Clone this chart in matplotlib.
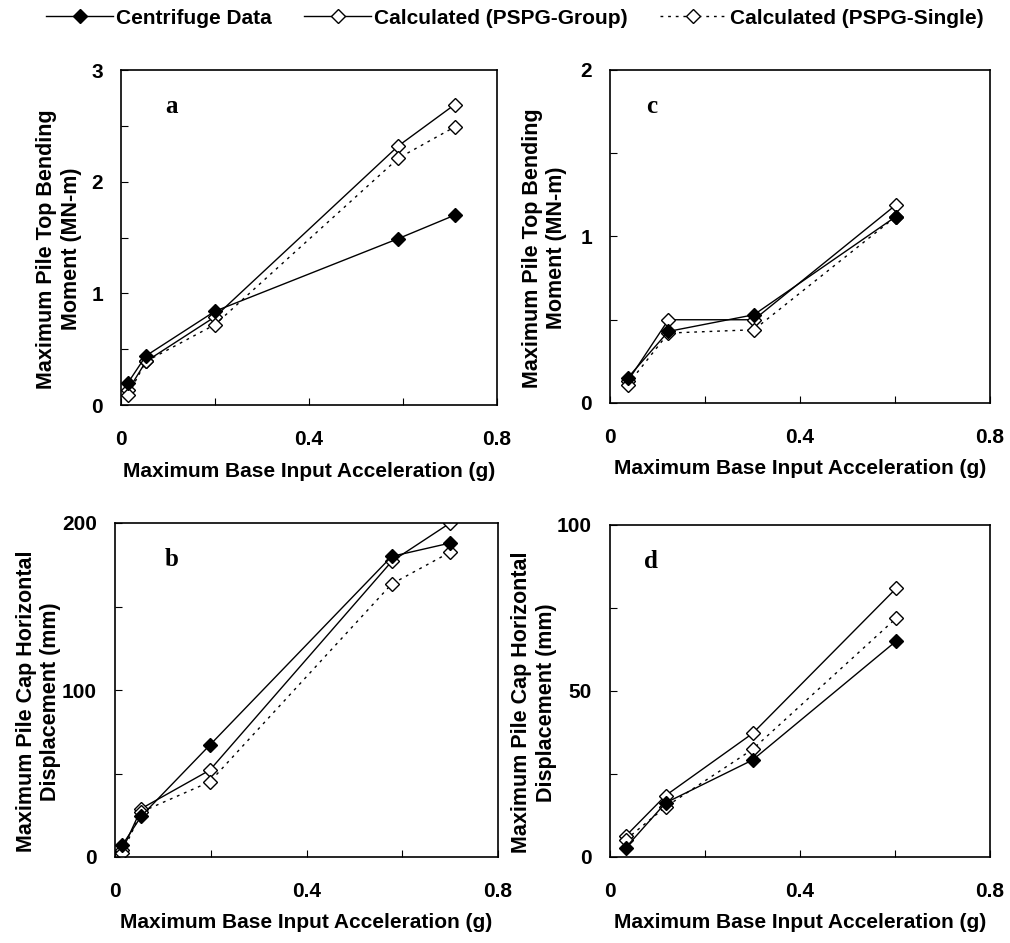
import matplotlib
matplotlib.use("Agg")
import matplotlib.pyplot as plt

plt.rcParams['font.family'] = ['Liberation Sans', 'DejaVu Sans']
plt.rcParams['font.weight'] = 'bold'

# panel a - bending moment, group 1
a_x = [0.015, 0.053, 0.2, 0.59, 0.71]
a_cent = [0.20, 0.44, 0.84, 1.49, 1.70]
a_group = [0.13, 0.39, 0.79, 2.32, 2.69]
a_single = [0.09, 0.39, 0.72, 2.21, 2.49]

# panel b - cap displacement, group 1
b_x = [0.015, 0.055, 0.198, 0.578, 0.70]
b_cent = [7.0, 24.5, 67.0, 180.0, 188.0]
b_group = [4.0, 29.0, 52.0, 177.0, 200.0]
b_single = [2.5, 27.0, 45.0, 163.5, 182.5]

# panel c - bending moment, group 2
c_x = [0.037, 0.123, 0.303, 0.602]
c_cent = [0.15, 0.43, 0.53, 1.12]
c_group = [0.13, 0.50, 0.50, 1.19]
c_single = [0.11, 0.42, 0.44, 1.12]

# panel d - cap displacement, group 2
d_x = [0.033, 0.117, 0.30, 0.603]
d_cent = [2.8, 16.3, 29.2, 65.1]
d_group = [6.3, 18.5, 37.2, 81.0]
d_single = [5.2, 15.1, 32.4, 72.0]

xlab = 'Maximum Base Input Acceleration (g)'
ylab_m = 'Maximum Pile Top Bending\nMoment (MN-m)'
ylab_d = 'Maximum Pile Cap Horizontal\nDisplacement (mm)'
names = ['Centrifuge Data', 'Calculated (PSPG-Group)', 'Calculated (PSPG-Single)']

W, H = 1010, 943
fig = plt.figure(figsize=(W / 100, H / 100), dpi=100)

def box(l, r, t, b):
    return [l / W, 1 - b / H, (r - l) / W, (b - t) / H]

panels = [
    (box(121, 497, 70, 405), 'a', a_x, a_cent, a_group, a_single, 3, 0.5, [0, 1, 2, 3], ylab_m, -0.165, 0.133),
    (box(115, 498, 523, 857), 'b', b_x, b_cent, b_group, b_single, 200, 50, [0, 100, 200], ylab_d, -0.2, 0.149),
    (box(610, 990, 70, 403), 'c', c_x, c_cent, c_group, c_single, 2, 0.5, [0, 1, 2], ylab_m, -0.172, 0.111),
    (box(610, 990, 525, 857), 'd', d_x, d_cent, d_group, d_single, 100, 25, [0, 50, 100], ylab_d, -0.2, 0.108),
]

fs = 15
ms = 7
lw = 1.0
handles = None
for rect, letter, x, cent, grp, sgl, ymax, ystep, ylabs, ylab, ylx, ltx in panels:
    ax = fig.add_axes(rect)
    h2, = ax.plot(x, grp, '-', color='black', lw=lw, marker='D', ms=ms,
                  mfc='white', mec='black', mew=1.0, zorder=2)
    h3, = ax.plot(x, sgl, color='black', lw=lw, ls=(0, (2, 3.5)), marker='D', ms=ms,
                  mfc='white', mec='black', mew=1.0, zorder=2)
    h1, = ax.plot(x, cent, '-', color='black', lw=lw, marker='D', ms=ms,
                  mfc='black', mec='black', zorder=3)
    handles = [h1, h2, h3]

    ax.set_xlim(0, 0.8)
    ax.set_ylim(0, ymax)
    ax.set_xticks([0, 0.2, 0.4, 0.6, 0.8])
    ax.set_xticklabels(['0', '', '0.4', '', '0.8'])
    nt = int(round(ymax / ystep))
    yt = [i * ystep for i in range(nt + 1)]
    ax.set_yticks(yt)
    ax.set_yticklabels([f'{v:g}' if v in ylabs else '' for v in yt])
    ax.tick_params(direction='in', length=5, width=0.8, labelsize=fs)
    ax.tick_params(axis='x', pad=18)
    ax.tick_params(axis='y', pad=13)
    for s in ax.spines.values():
        s.set_linewidth(1.2)

    ax.set_xlabel(xlab, fontsize=fs, fontweight='bold', labelpad=9)
    ax.set_ylabel(ylab, fontsize=15.5, fontweight='bold', va='center', ha='center')
    ax.yaxis.set_label_coords(ylx, 0.465)
    ax.text(ltx, 0.89, letter, transform=ax.transAxes, family='Liberation Serif',
            fontsize=18, fontweight='bold', ha='center', va='center')

fig.legend(handles, names, loc='center left', bbox_to_anchor=(36 / W, 1 - 18 / H),
           ncol=3, frameon=False, borderpad=0, handlelength=3.2, handletextpad=0.15,
           columnspacing=1.55, prop={'weight': 'bold', 'size': fs})

fig.savefig('out.png', dpi=100)
